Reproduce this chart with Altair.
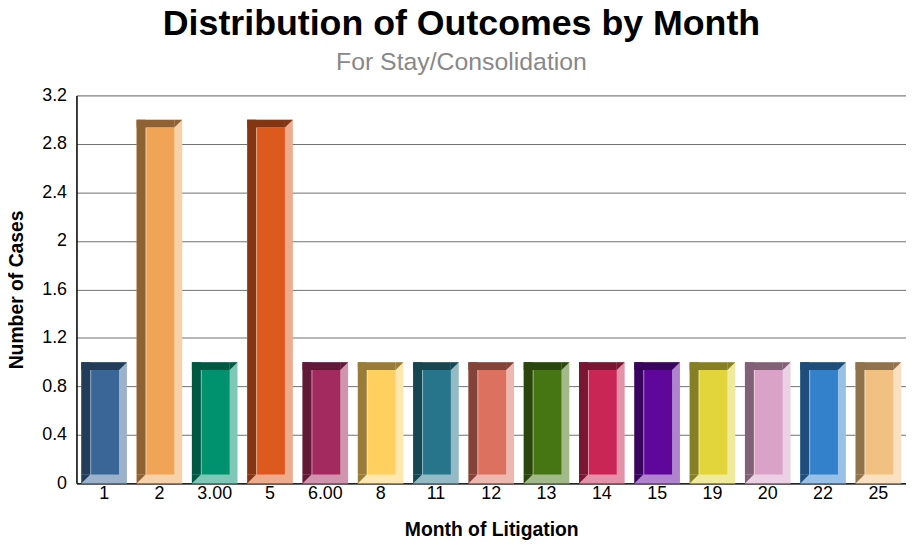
import altair as alt
import pandas as pd

months = ["1", "2", "3.00", "5", "6.00", "8", "11", "12", "13", "14", "15", "19", "20", "22", "25"]
cases = [1, 3, 1, 3, 1, 1, 1, 1, 1, 1, 1, 1, 1, 1, 1]
colors = ["#3A6597", "#EFA456", "#00916F", "#DD5A1F", "#A22A5E", "#FFCF60", "#27758B",
          "#DC7160", "#467614", "#C92655", "#5F079B", "#E2D53C", "#DAA2C7", "#3381CB", "#F1C181"]
y_ticks = [0, 0.4, 0.8, 1.2, 1.6, 2, 2.4, 2.8, 3.2]


def shade(hexc, f):
    r, g, b = (int(hexc[i:i + 2], 16) for i in (1, 3, 5))
    return "#%02X%02X%02X" % (int(r * f), int(g * f), int(b * f))


def tint(hexc):
    r, g, b = (int(hexc[i:i + 2], 16) for i in (1, 3, 5))
    return "#%02X%02X%02X" % ((r + 255) // 2, (g + 255) // 2, (b + 255) // 2)


df = pd.DataFrame({
    "Month": months,
    "Cases": cases,
    "main": colors,
    "dark": [shade(c, 0.6) for c in colors],
    "light": [tint(c) for c in colors],
})

FONT = "Liberation Sans"

x_enc = alt.X("Month:N", sort=months, title="Month of Litigation",
              scale=alt.Scale(paddingInner=0.175, paddingOuter=0.0875),
              axis=alt.Axis(labelAngle=0, ticks=False, labelFontSize=18, labelColor="#000",
                            labelFont=FONT, labelPadding=1, titleFont=FONT, titleFontSize=19.5,
                            titleFontWeight="bold", titleColor="#000", titlePadding=19,
                            domainColor="#000", domainWidth=1.5))
y_scale = alt.Scale(domain=[0, 3.2], nice=False)
y_axis = alt.Axis(values=y_ticks, format="~g", ticks=False, labelFontSize=18, labelColor="#000",
                  labelFont=FONT, labelPadding=10, titleFont=FONT, titleFontSize=19.5,
                  titleFontWeight="bold", titleColor="#000", titlePadding=15,
                  gridColor="#707070", gridWidth=1, domainColor="#000", domainWidth=1.5)

base = alt.Chart(df)

light_full = base.mark_bar().encode(
    x=x_enc,
    y=alt.Y("Cases:Q", scale=y_scale, axis=y_axis, title="Number of Cases"),
    y2=alt.datum(0),
    color=alt.Color("light:N", scale=None),
)

dark_top = base.mark_bar(size=38, xOffset=-4, y2Offset=8).encode(
    x=alt.X("Month:N", sort=months),
    y=alt.Y("Cases:Q"),
    y2=alt.Y2("Cases:Q"),
    color=alt.Color("dark:N", scale=None),
)

dark_left = base.mark_bar(size=9, xOffset=-18.5, y2Offset=-9).encode(
    x=alt.X("Month:N", sort=months),
    y=alt.Y("Cases:Q"),
    y2=alt.datum(0),
    color=alt.Color("dark:N", scale=None),
)

tri = "M -1 -1 L 1 -1 L -1 1 Z"
dark_tr = base.mark_point(shape=tri, size=64, filled=True, opacity=1, strokeWidth=0,
                          xOffset=19, yOffset=4).encode(
    x=alt.X("Month:N", sort=months),
    y=alt.Y("Cases:Q"),
    color=alt.Color("dark:N", scale=None),
)

dark_bl = base.mark_point(shape=tri, size=81, filled=True, opacity=1, strokeWidth=0,
                          xOffset=-18.5, yOffset=-4.5).encode(
    x=alt.X("Month:N", sort=months),
    y=alt.datum(0),
    color=alt.Color("dark:N", scale=None),
)

face = base.mark_bar(size=28, xOffset=1, yOffset=8, y2Offset=-9).encode(
    x=alt.X("Month:N", sort=months),
    y=alt.Y("Cases:Q"),
    y2=alt.datum(0),
    color=alt.Color("main:N", scale=None),
)

chart = alt.layer(light_full, dark_top, dark_left, dark_tr, dark_bl, face).properties(
    width=836,
    height=391,
    title=alt.TitleParams(
        text="Distribution of Outcomes by Month",
        subtitle="For Stay/Consolidation",
        font=FONT, fontSize=36, fontWeight="bold", color="#000",
        subtitleFont=FONT, subtitleFontSize=25, subtitleColor="#888888",
        subtitlePadding=7, anchor="middle", frame="bounds", offset=11, dx=5,
    ),
    autosize=alt.AutoSizeParams(type="none"),
    padding={"left": 69, "top": 86, "right": 0, "bottom": 57},
).configure_view(stroke="#000", strokeWidth=1.5).configure(background="#ffffff")

chart.save("out.html", embed_options={"renderer": "svg", "actions": False})
